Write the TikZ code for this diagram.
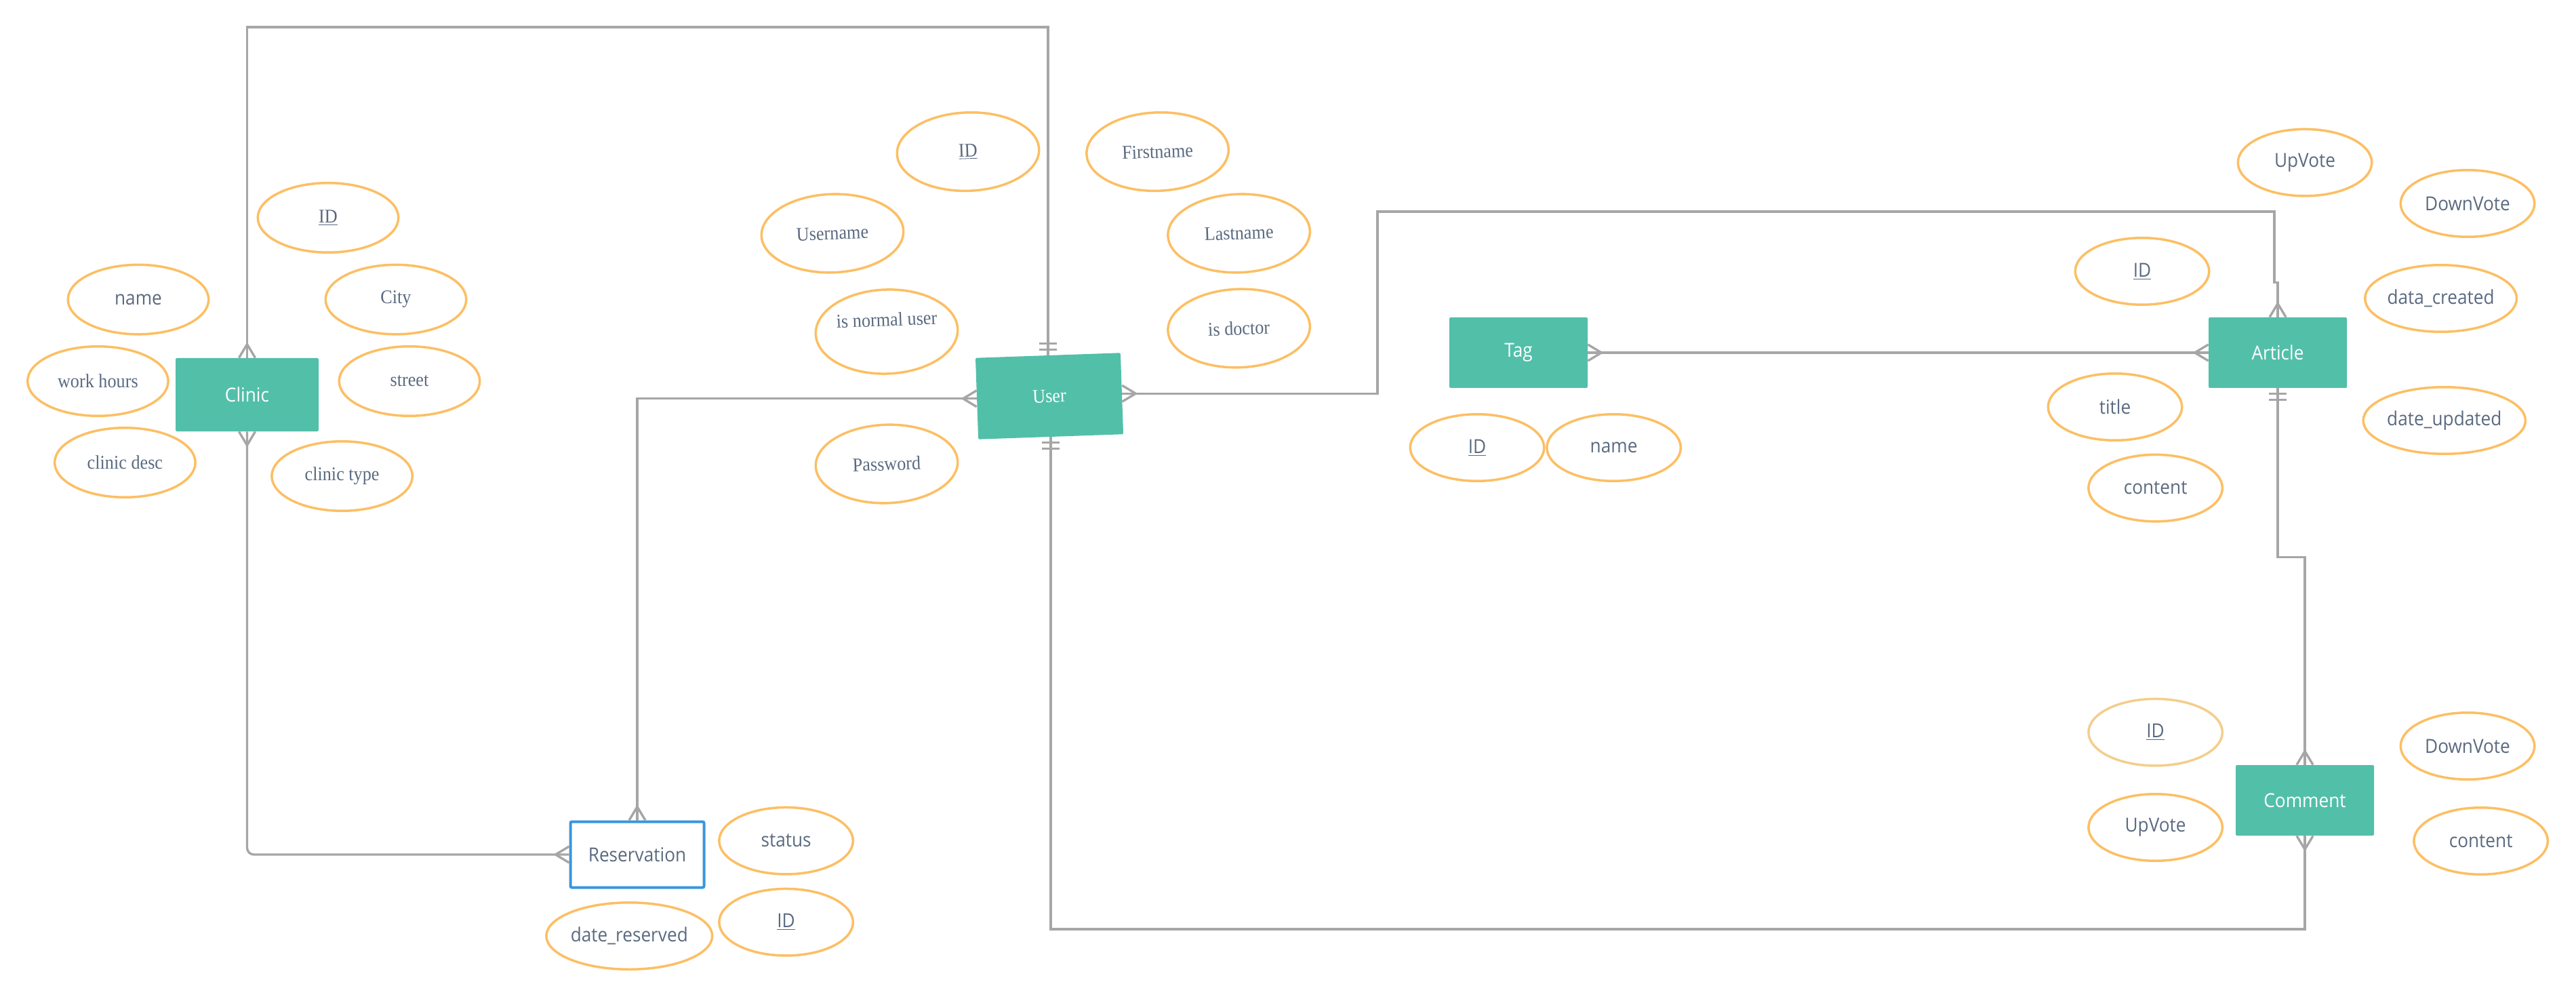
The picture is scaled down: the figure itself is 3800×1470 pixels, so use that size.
\documentclass[tikz,border=0pt]{standalone}
\usepackage{fontspec}
\usetikzlibrary{shapes.geometric}
\newfontfamily\sansf[FakeStretch=0.92]{Open Sans}
\newfontfamily\seriff[FakeStretch=0.92]{Liberation Serif}
\definecolor{teal1}{HTML}{52BFA9}
\definecolor{orange1}{HTML}{FCBF64}
\definecolor{orangepale}{HTML}{F3CE8C}
\definecolor{textc}{HTML}{5A6A80}
\definecolor{linegray}{HTML}{A6A6A6}
\definecolor{blue1}{HTML}{3A96DD}
\newcommand\sfnt{\sansf\fontsize{14.25pt}{16pt}\selectfont}
\newcommand\rfnt{\seriff\fontsize{14.25pt}{16pt}\selectfont}
\tikzset{
  conn/.style={draw=linegray, line width=1.7pt},
  entity/.style={fill=teal1, text=white, minimum width=102pt, minimum height=52pt,
    inner sep=0pt, rounded corners=1pt, font=\sfnt},
  resvbox/.style={draw=blue1, fill=white, line width=2pt, text=textc, minimum width=98.5pt,
    minimum height=48.5pt, inner sep=0pt, rounded corners=1pt, font=\sfnt},
  attr/.style={ellipse, draw=orange1, line width=1.75pt, text=textc, inner sep=0pt,
    minimum width=98.75pt, minimum height=49.25pt, font=\sfnt},
  cattr/.style={attr, minimum width=103.75pt, minimum height=51.25pt, font=\rfnt},
  uattr/.style={attr, minimum width=104.75pt, minimum height=57.75pt, rotate=2, font=\rfnt},
  uattrtext/.style={text=textc, inner sep=0pt, font=\rfnt},
}
\newcommand\crowft[2]{\draw[conn, shift={#1}, rotate=#2] (20,0) -- (0,12) (20,0) -- (0,-12);}
\newcommand\mbars[2]{\draw[conn, shift={#1}, rotate=#2] (8,-13) -- (8,13) (17,-13) -- (17,13);}
\begin{document}
\begin{tikzpicture}[x=0.5pt, y=-0.5pt]
\useasboundingbox (0,0) rectangle (3800,1470);

% entities
\node[entity, minimum width=105.5pt, minimum height=54pt] (clinic) at (364.5,582) {Clinic};
\node[entity, minimum width=107pt, minimum height=60pt, rotate=2, font=\rfnt] (user) at (1548,584) {User};
\node[entity] (tag) at (2240,520) {Tag};
\node[entity] (article) at (3360,520) {Article};
\node[entity] (comment) at (3400,1180) {Comment};
\node[resvbox] (resv) at (940,1260) {Reservation};

% clinic attributes
\node[cattr] (cid) at (484,321) {\underline{ID}};
\node[cattr, font=\sfnt] (cname) at (204,441.6) {name};
\node[cattr] (ccity) at (584,441.6) {City};
\node[cattr] (cwork) at (144.4,562) {work hours};
\node[cattr] (cstreet) at (604,562) {street};
\node[cattr] (cdesc) at (184.4,682) {clinic desc};
\node[cattr] (ctype) at (504.6,702) {clinic type};

% user attributes
\node[uattr] (uid) at (1428,223.6) {\underline{ID}};
\node[uattr] (ufirst) at (1707.6,223.6) {Firstname};
\node[uattr] (uname) at (1228,344) {Username};
\node[uattr] (ulast) at (1827.6,344) {Lastname};
\node[uattr, minimum height=62pt, label={[uattrtext, yshift=9pt, rotate=2]center:is normal user}] (unormal) at (1308,489) {};
\node[uattr] (udoc) at (1827.6,484) {is doctor};
\node[uattr] (upass) at (1308,684) {Password};

% tag attributes
\node[attr] (tid) at (2179,660) {\underline{ID}};
\node[attr] (tname) at (2380.6,660) {name};

% article attributes
\node[attr] (aup) at (3400,239.7) {UpVote};
\node[attr] (adown) at (3640,300) {DownVote};
\node[attr] (aid) at (3160,400) {\underline{ID}};
\node[attr] (acreated) at (3600.6,440) {data\_created};
\node[attr] (atitle) at (3120,600) {title};
\node[attr, minimum width=105pt] (aupdated) at (3605.8,620) {date\_updated};
\node[attr] (acontent) at (3179.6,719.6) {content};

% comment attributes
\node[attr, draw=orangepale] (mid) at (3179.6,1079.7) {\underline{ID}};
\node[attr] (mup) at (3179.6,1220) {UpVote};
\node[attr] (mdown) at (3640,1100) {DownVote};
\node[attr] (mcontent) at (3659.6,1240) {content};

% reservation attributes
\node[attr] (rstatus) at (1159.6,1239.7) {status};
\node[attr, minimum width=106.75pt] (rdate) at (928.3,1380) {date\_reserved};
\node[attr] (rid) at (1159.6,1359.7) {\underline{ID}};

% connectors
\coordinate (ctop) at (1000,40);
\draw[conn] (clinic.north) |- (ctop) -| (user.north);
\draw[conn] (user.west) -| (resv.north);
\draw[conn, rounded corners=5pt] (clinic.south) |- (resv.west);
\coordinate (ua1) at (2032,312);
\coordinate (ua2) at (3355,416.5);
\draw[conn] (user.east) -| (ua1) -| (ua2) -| (article.north);
\draw[conn] (tag.east) -- (article.west);
\coordinate (ac) at (3400,821.6);
\draw[conn] (article.south) |- (ac) -- (comment.north);
\coordinate (uc) at (2500,1370);
\draw[conn] (user.south) |- (uc) -| (comment.south);

% cardinality marks
\crowft{(clinic.north)}{90}
\crowft{(clinic.south)}{270}
\crowft{(user.west)}{180}
\crowft{(user.east)}{0}
\crowft{(resv.north)}{90}
\crowft{(resv.west)}{180}
\crowft{(tag.east)}{0}
\crowft{(article.west)}{180}
\crowft{(article.north)}{90}
\crowft{(comment.north)}{90}
\crowft{(comment.south)}{270}
\mbars{(user.north)}{90}
\mbars{(user.south)}{270}
\mbars{(article.south)}{270}
\end{tikzpicture}
\end{document}
